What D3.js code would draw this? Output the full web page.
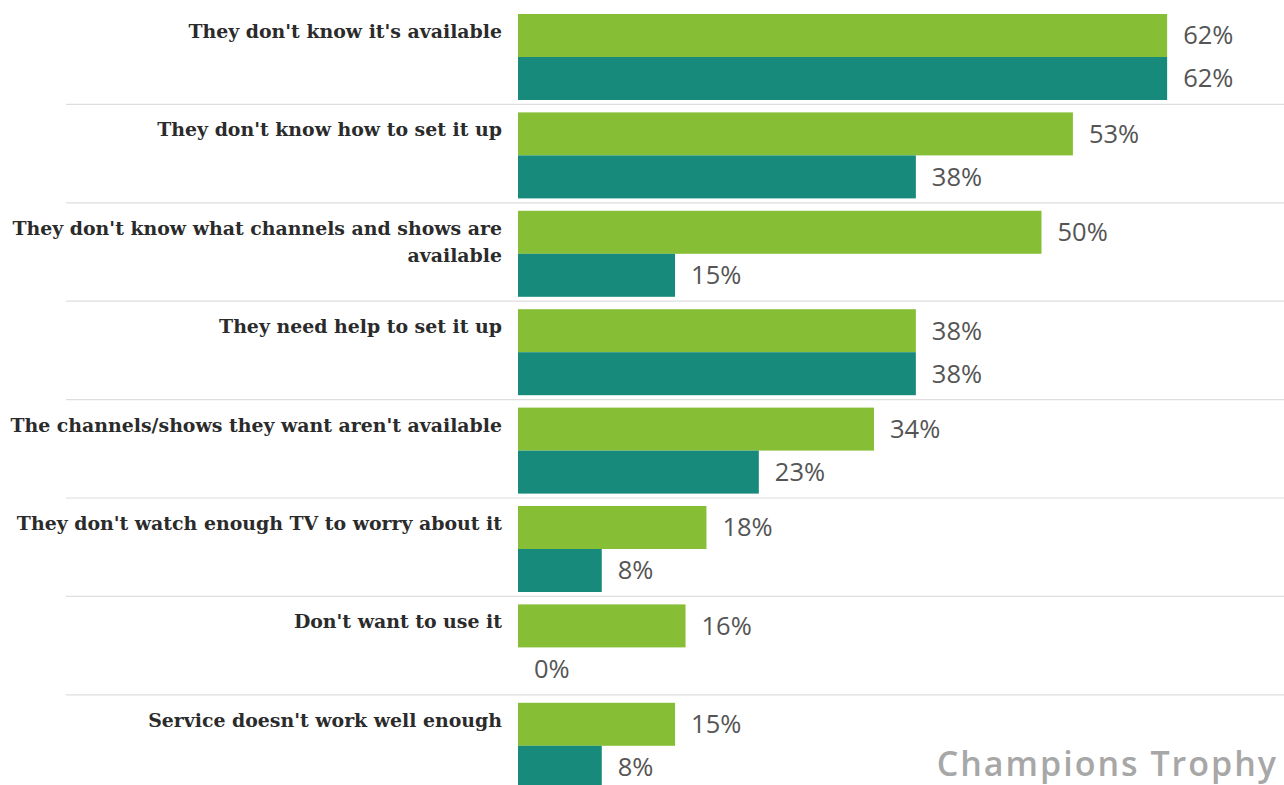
<!DOCTYPE html>
<html>
<head>
<meta charset="utf-8">
<script src="https://cdn.jsdelivr.net/npm/d3@7"></script>
<style>
  html, body { margin: 0; padding: 0; background: #fff; }
  svg { display: block; }
</style>
</head>
<body>
<svg id="chart" width="1284" height="785"></svg>
<script>
// Reasons for not using the service, two respondent groups per reason
const categories = [
  ["They don't know it's available"],
  ["They don't know how to set it up"],
  ["They don't know what channels and shows are", "available"],
  ["They need help to set it up"],
  ["The channels/shows they want aren't available"],
  ["They don't watch enough TV to worry about it"],
  ["Don't want to use it"],
  ["Service doesn't work well enough"]
];
const seriesNames = ["groupA", "groupB"];
const groupA = [62, 53, 50, 38, 34, 18, 16, 15];
const groupB = [62, 38, 15, 38, 23, 8, 0, 8];
const seriesColors = ["#86bf36", "#178a7b"];

const svg = d3.select("#chart");
const W = 1284, H = 785;

const keys = categories.map((c, i) => "c" + i);
const x = d3.scaleLinear().domain([0, 100]).range([518, 1565]);
const y0 = d3.scaleBand().domain(keys).range([14, 788.8]).paddingInner(0.126).paddingOuter(0);
const y1 = d3.scaleBand().domain(seriesNames).range([0, y0.bandwidth()]).padding(0);

const rows = categories.map((c, i) => ({
  key: keys[i],
  label: c,
  values: [
    { series: "groupA", v: groupA[i], color: seriesColors[0] },
    { series: "groupB", v: groupB[i], color: seriesColors[1] }
  ]
}));

// dividers between reasons
svg.append("g").selectAll("line")
  .data(keys.slice(1))
  .join("line")
  .attr("x1", 66).attr("x2", W)
  .attr("y1", d => y0(d) - 8).attr("y2", d => y0(d) - 8)
  .attr("stroke", "#dedede").attr("stroke-width", 1.2);

const g = svg.append("g").selectAll("g")
  .data(rows)
  .join("g")
  .attr("transform", d => `translate(0,${y0(d.key)})`);

// bars
g.selectAll("rect")
  .data(d => d.values)
  .join("rect")
  .attr("x", x(0))
  .attr("y", d => y1(d.series))
  .attr("width", d => x(d.v) - x(0))
  .attr("height", y1.bandwidth())
  .attr("fill", d => d.color);

// value labels
g.selectAll("text.val")
  .data(d => d.values)
  .join("text")
  .attr("class", "val")
  .attr("x", d => x(d.v) + 16)
  .attr("y", d => y1(d.series) + y1.bandwidth() / 2 + 2)
  .attr("dominant-baseline", "middle")
  .attr("font-family", "'Open Sans', sans-serif")
  .attr("font-size", 25.5)
  .attr("fill", "#555")
  .text(d => d.v + "%");

// category labels
g.append("text")
  .attr("class", "cat")
  .attr("text-anchor", "end")
  .attr("font-family", "'DejaVu Serif', serif")
  .attr("font-weight", "bold")
  .attr("font-size", 18.9)
  .attr("fill", "#2b2b2b")
  .selectAll("tspan")
  .data(d => d.label)
  .join("tspan")
  .attr("x", 502)
  .attr("y", (d, i) => 19 + i * 27)
  .attr("dominant-baseline", "middle")
  .text(d => d);

// watermark
svg.append("text")
  .attr("x", 1278).attr("y", 776)
  .attr("text-anchor", "end")
  .attr("font-family", "'Open Sans', sans-serif")
  .attr("font-weight", 600)
  .attr("font-size", 34)
  .attr("letter-spacing", 2)
  .attr("fill", "#a7a7a7")
  .text("Champions Trophy");
</script>
</body>
</html>
